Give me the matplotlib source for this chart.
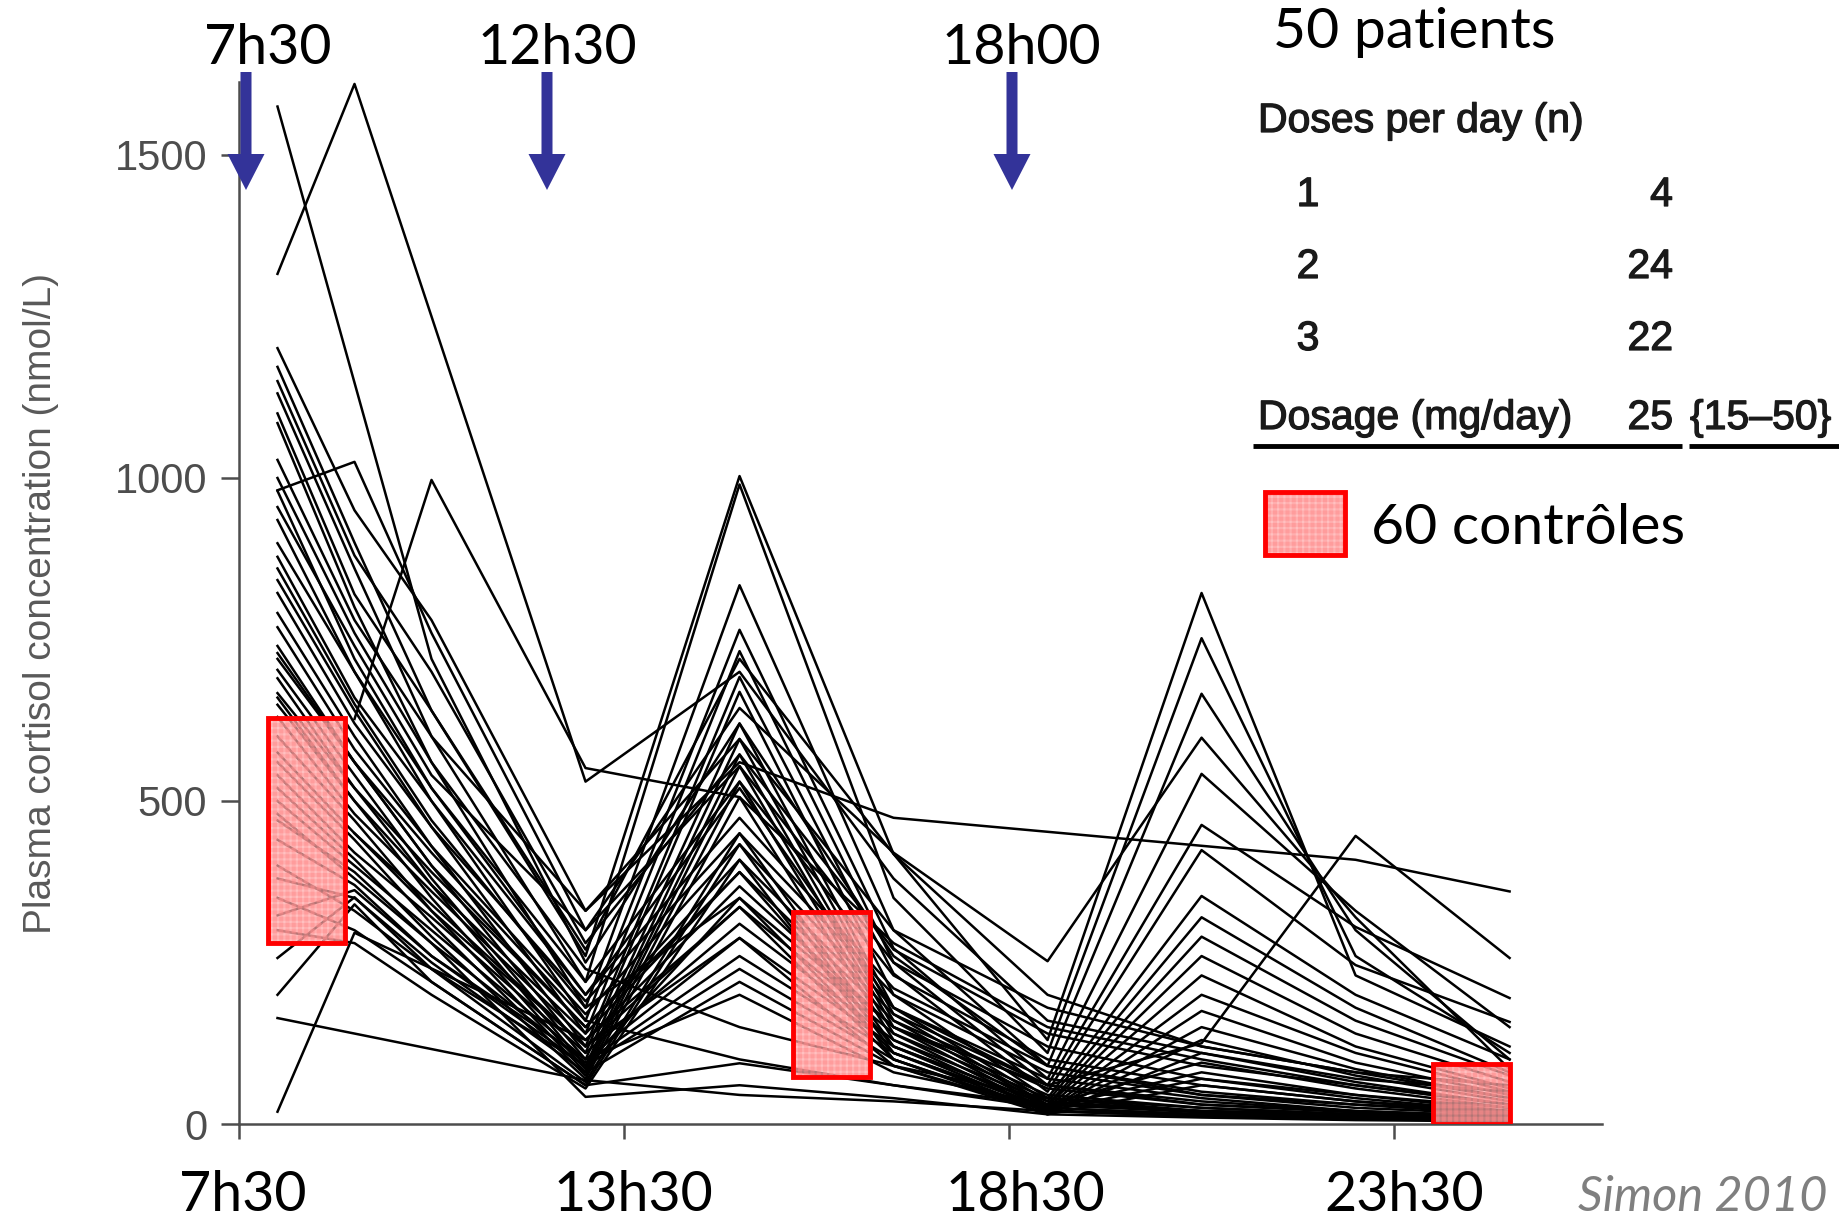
import numpy as np
import matplotlib
matplotlib.use("Agg")
import matplotlib.pyplot as plt
import matplotlib.patheffects as pe
from matplotlib.patches import Rectangle, FancyArrow

nan = np.nan

# heures de prélèvement (h après le repère 7h30)
heures = [0.5, 1.5, 2.5, 4.5, 6.5, 8.5, 10.5, 12.5, 14.5, 16.5]

# cortisol plasmatique (nmol/L), un patient par ligne
deux_prises = [
    [1316, 1610, nan, 530, 700, 380, 160, 110, 70, 50],
    [1575, nan, 720, 250, 620, 260, 90, 45, 30, 20],
    [1201, 950, 780, 330, 596, 300, 180, 120, 80, 40],
    [1150, 880, 700, 280, 572, 270, 140, 90, 60, 30],
    [981, 1025, 760, 300, 554, 250, 120, 70, 45, 25],
    [nan, 627, 997, 551, 506, 280, 150, 100, 60, 30],
    [1028, 780, 600, 330, 560, 474, nan, nan, 409, 360],
    [935, 700, 520, 220, 530, 230, 100, 60, 35, 20],
    [878, 660, 500, 200, 474, 210, 90, 50, 30, 15],
    [822, 620, 460, 190, 450, 200, 80, 45, 25, 15],
    [769, 580, 430, 170, 433, 180, 70, 40, 20, 10],
    [667, 520, 390, 150, 409, 170, 60, 35, 20, 12],
    [649, 500, 370, 140, 390, 160, 55, 30, 18, 10],
    [630, 480, 360, 130, 368, 150, 45, 25, 15, 10],
    [575, 450, 340, 120, 336, 140, 40, 20, 15, 8],
    [540, 420, 320, 110, 310, 130, 35, 20, 12, 8],
    [500, 400, 300, 100, 288, 120, 30, 18, 12, 6],
    [470, 390, 280, 95, 260, 110, 25, 15, 10, 6],
    [440, 370, 260, 90, 240, 100, 20, 15, 10, 5],
    [380, 350, 250, 80, 220, 90, 20, 12, 8, 5],
    [323, 362, 260, 100, 200, 80, 30, 20, 15, 10],
    [257, 351, 240, 90, 350, 150, 60, 30, 20, 12],
    [200, 340, 220, 60, 94, 60, 25, 15, 10, 5],
    [1100, 820, 640, 270, 720, 418, 200, 120, 80, 60],
]
trois_prises = [
    [1172, 900, 640, 260, 1003, 418, 130, 822, 230, 120],
    [1131, 860, 600, 220, 990, 350, 110, 752, 260, 110],
    [1085, 800, 560, 180, 834, 300, 90, 666, 300, 100],
    [955, 740, 540, 300, 644, 420, 252, 598, 320, 85],
    [899, 700, 500, 160, 765, 272, 70, 542, 330, 150],
    [842, 640, 460, 140, 732, 250, 60, 463, 305, 195],
    [791, 600, 430, 120, 692, 233, 50, 424, 246, 158],
    [729, 560, 400, 110, 669, 200, 40, 353, 200, 100],
    [703, 540, 380, 100, 620, 180, 35, 320, 180, 80],
    [980, 720, 520, 200, 520, 180, 60, 125, 446, 257],
    [690, 520, 370, 90, 596, 170, 30, 290, 160, 75],
    [660, 500, 350, 85, 572, 160, 28, 260, 140, 65],
    [600, 470, 330, 80, 554, 150, 25, 230, 120, 55],
    [560, 440, 310, 75, 530, 140, 22, 200, 110, 50],
    [520, 410, 290, 70, 506, 130, 20, 175, 95, 45],
    [400, 330, 240, 65, 450, 120, 20, 150, 85, 40],
    [350, 300, 220, 60, 433, 110, 18, 130, 75, 35],
    [300, 280, 200, 55, 409, 100, 15, 110, 65, 30],
    [740, 560, 400, 150, 390, 120, 30, 95, 55, 25],
    [860, 650, 470, 180, 350, 110, 25, 80, 45, 20],
    [19, 296, nan, 130, 336, 100, 20, 70, 40, 18],
    [nan, 450, 330, 120, 288, 90, 15, 60, 35, 15],
]
une_prise = [
    [164, nan, nan, 68, 45, 35, 20, 12, 8, 5],
    [1000, 760, 560, 240, 150, 90, 40, 25, 15, 10],
    [720, 560, 420, 160, 100, 60, 30, 20, 12, 8],
    [480, 380, 280, 42, 60, 40, 15, 10, 6, 4],
]

# zones des 60 contrôles : début, fin (h), min, max (nmol/L)
ctrl_debut = [0.38, 7.2, 15.5]
ctrl_fin = [1.38, 8.2, 16.5]
ctrl_min = [280, 73, 0]
ctrl_max = [628, 328, 93]

xticks = [0, 5, 10, 15]
xtick_labels = ["7h30", "13h30", "18h30", "23h30"]
xtick_decal = [2.5, 7, 12, 7]  # léger décalage à droite des étiquettes (pt)
yticks = [0, 500, 1000, 1500]

prises_labels = ["7h30", "12h30", "18h00"]
table_doses = ["1", "2", "3"]
table_n = ["4", "24", "22"]

GRIS = "#4d4d4d"
CALIBRI = "Lato"
ARIAL = "Liberation Sans"
ROSE = (1, 0.86, 0.86, 0.45)
ROSE_TRAME = (1, 0.55, 0.55)

plt.rcParams["hatch.linewidth"] = 0.3

fig = plt.figure(figsize=(18.4, 12.19), dpi=100)
ax = fig.add_axes([239 / 1840, 95 / 1219, 1363 / 1840, 1042 / 1219])

t = np.array(heures)
for patient in deux_prises + trois_prises + une_prise:
    v = np.array(patient, dtype=float)
    ok = ~np.isnan(v)
    ax.plot(t[ok], v[ok], color="black", lw=1.8, zorder=2)

for t0, t1, lo, hi in zip(ctrl_debut, ctrl_fin, ctrl_min, ctrl_max):
    ax.add_patch(Rectangle((t0, lo), t1 - t0, hi - lo, facecolor=ROSE,
                           edgecolor=ROSE_TRAME, lw=0, hatch="+" * 14, zorder=3))
    ax.add_patch(Rectangle((t0, lo), t1 - t0, hi - lo, facecolor="none",
                           edgecolor="red", lw=3.5, zorder=4))

ax.set_xlim(0, 17.7)
ax.set_ylim(0, 1613)
for s in ["top", "right"]:
    ax.spines[s].set_visible(False)
for s in ["left", "bottom"]:
    ax.spines[s].set_color(GRIS)
    ax.spines[s].set_linewidth(1.8)

ax.set_yticks(yticks)
ax.set_yticklabels([str(y) for y in yticks], fontsize=30, color=GRIS, family=ARIAL)
ax.set_xticks(xticks)
ax.set_xticklabels([])
for x, lab, d in zip(xticks, xtick_labels, xtick_decal):
    ax.annotate(lab, xy=(x, 0), xycoords=("data", "axes fraction"), xytext=(d, -33),
                textcoords="offset points", ha="center", va="top", fontsize=40, family=CALIBRI)
ax.tick_params(axis="both", direction="out", width=1.8, color=GRIS)
ax.tick_params(axis="y", length=13, pad=10)
ax.tick_params(axis="x", length=11)
ax.set_ylabel("Plasma cortisol concentration (nmol/L)", fontsize=28, color="#595959", family=ARIAL)
ax.yaxis.set_label_coords(-0.132, 0.5)

# calque d'annotation en pixels
ov = fig.add_axes([0, 0, 1, 1], zorder=5)
ov.set_xlim(0, 1840)
ov.set_ylim(1219, 0)
ov.axis("off")
ov.patch.set_alpha(0)

# flèches des prises
for x_fl, x_txt, lab in zip([246, 547, 1012], [268, 557, 1021], prises_labels):
    ov.add_patch(FancyArrow(x_fl, 72, 0, 118, width=11, head_width=37, head_length=36,
                            length_includes_head=True, color="#333399", lw=0))
    ov.text(x_txt, 48, lab, fontsize=40, family=CALIBRI, ha="center", va="center")

ov.text(1273, 32, "50 patients", fontsize=41, family=CALIBRI, ha="left", va="center")

# tableau des doses
epais = [pe.withStroke(linewidth=0.9, foreground="#1a1a1a")]
tab = dict(fontsize=29.5, family=ARIAL, color="#1a1a1a", va="center", path_effects=epais)
ov.text(1258, 121, "Doses per day (n)", **tab)
for i, (d, n) in enumerate(zip(table_doses, table_n)):
    y = 195 + i * 72
    ov.text(1308, y, d, ha="center", **tab)
    ov.text(1673, y, n, ha="right", **tab)
ov.text(1258, 418, "Dosage (mg/day)", **tab)
ov.text(1673, 418, "25", ha="right", **tab)
ov.text(1690, 418, "{15–50}", ha="left", **tab)
ov.plot([1253, 1682], [446, 446], color="black", lw=3.5, solid_capstyle="butt")
ov.plot([1689, 1840], [446, 446], color="black", lw=3.5, solid_capstyle="butt")

# légende contrôles
ov.add_patch(Rectangle((1265, 492), 80, 63, facecolor=ROSE,
                       edgecolor=ROSE_TRAME, lw=0, hatch="+" * 14))
ov.add_patch(Rectangle((1265, 492), 80, 63, facecolor="none", edgecolor="red", lw=3.5))
ov.text(1371, 528, "60 contrôles", fontsize=41, family=CALIBRI, ha="left", va="center")

ov.text(1828, 1197, "Simon 2010", fontsize=35, family=CALIBRI, style="italic",
        color="#7f7f7f", ha="right", va="center")

fig.savefig("out.png", dpi=100)
